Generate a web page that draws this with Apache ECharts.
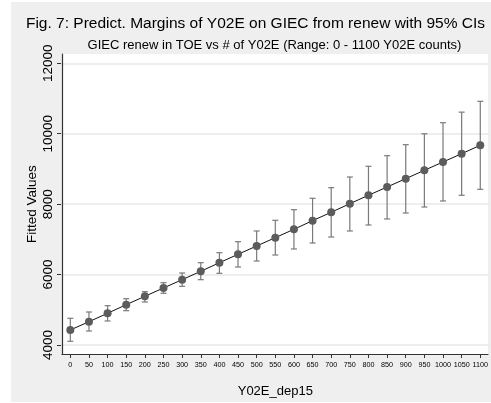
<!DOCTYPE html>
<html>
<head>
<meta charset="utf-8">
<script src="https://cdn.jsdelivr.net/npm/echarts@6/dist/echarts.min.js"></script>
<style>
html,body{margin:0;padding:0;background:#fff;}
#c{width:491px;height:403px;}
</style>
</head>
<body>
<div id="c"></div>
<script>
const categories = ['0','50','100','150','200','250','300','350','400','450','500','550','600','650','700','750','800','850','900','950','1000','1050','1100'];
const fitted = [4426,4662,4900,5145,5383,5619,5855,6093,6337,6575,6812,7048,7286,7531,7769,8013,8252,8487,8723,8962,9197,9433,9672];
const ciLow  = [4105,4398,4682,4975,5221,5468,5666,5855,6036,6215,6386,6556,6727,6897,7067,7238,7408,7579,7749,7919,8090,8252,8422];
const ciHigh = [4758,4937,5116,5315,5515,5769,6045,6337,6621,6934,7238,7541,7843,8166,8468,8771,9075,9376,9689,9999,10313,10613,10921];
const yTicks = [4000,6000,8000,10000,12000];

const titleText = 'Fig. 7: Predict. Margins of Y02E on GIEC from renew with 95% CIs';
const subtitleText = 'GIEC renew in TOE vs # of Y02E (Range: 0 - 1100 Y02E counts)';

const FONT = '"Liberation Sans", Arial, Helvetica, sans-serif';
const chart = echarts.init(document.getElementById('c'), null, {renderer:'canvas'});

const ciData = categories.map((c,i)=>[i, ciLow[i], ciHigh[i]]);

const option = {
  animation:false,
  backgroundColor:'#ffffff',
  graphic:[
    {type:'rect', z:-10, shape:{x:11,y:2,width:480,height:400}, style:{fill:'#efefef'}, silent:true},
    {type:'text', z:10, x:255.5, y:23.6, style:{text:titleText, font:'15.5px '+FONT, fill:'#000', align:'center', verticalAlign:'middle'}},
    {type:'text', z:10, x:274.5, y:45, style:{text:subtitleText, font:'13px '+FONT, fill:'#000', align:'center', verticalAlign:'middle'}}
  ],
  grid:[
    {left:62, top:54, width:426, height:300, show:true, backgroundColor:'#ffffff', borderWidth:0, z:0},
    {left:61, top:63.3, width:429, height:281.7, show:false}
  ],
  xAxis:[
    {gridIndex:0, type:'value', min:0, max:1, axisLine:{show:true, onZero:false, lineStyle:{color:'#333', width:1.2}}, axisTick:{show:false}, axisLabel:{show:false}, splitLine:{show:false}},
    {gridIndex:1, type:'category', data:categories, boundaryGap:true, offset:9,
     axisLine:{show:false}, axisTick:{show:true, alignWithLabel:true, length:4, lineStyle:{color:'#333'}},
     axisLabel:{show:true, interval:0, fontSize:7.2, color:'#000', margin:8, fontFamily:FONT},
     name:'Y02E_dep15', nameLocation:'middle', nameGap:31, nameMoveOverlap:false, nameTextStyle:{fontSize:13, color:'#000', fontFamily:FONT}}
  ],
  yAxis:[
    {gridIndex:0, type:'value', min:0, max:1, axisLine:{show:true, onZero:false, lineStyle:{color:'#333', width:1.2}}, axisTick:{show:false}, axisLabel:{show:false}, splitLine:{show:false}},
    {gridIndex:1, type:'value', min:yTicks[0], max:yTicks[yTicks.length-1], interval:2000,
     axisLine:{show:false}, axisTick:{show:true, length:4, lineStyle:{color:'#333'}},
     axisLabel:{show:true, rotate:90, fontSize:13.5, color:'#000', margin:6, fontFamily:FONT, formatter:function(v){return String(v);}},
     splitLine:{show:true, lineStyle:{color:'#e8e8e8', width:1.5}},
     name:'Fitted Values', nameLocation:'middle', nameGap:22, nameMoveOverlap:false, nameRotate:90, nameTextStyle:{fontSize:13.5, color:'#000', fontFamily:FONT}}
  ],
  series:[
    {
      type:'custom', xAxisIndex:1, yAxisIndex:1, z:3,
      data:ciData,
      renderItem:function(params, api){
        const x = api.coord([api.value(0), api.value(1)]);
        const top = api.coord([api.value(0), api.value(2)]);
        const hw = 3;
        const st = {stroke:'#7a7a7a', lineWidth:1.2, fill:null};
        return {type:'group', children:[
          {type:'line', shape:{x1:x[0], y1:x[1], x2:top[0], y2:top[1]}, style:st},
          {type:'line', shape:{x1:x[0]-hw, y1:x[1], x2:x[0]+hw, y2:x[1]}, style:st},
          {type:'line', shape:{x1:top[0]-hw, y1:top[1], x2:top[0]+hw, y2:top[1]}, style:st}
        ]};
      }
    },
    {
      type:'line', xAxisIndex:1, yAxisIndex:1, z:4,
      data:fitted,
      symbol:'circle', symbolSize:8,
      itemStyle:{color:'#5c5c5c'},
      lineStyle:{color:'#111', width:1}
    }
  ]
};
chart.setOption(option);
</script>
</body>
</html>
